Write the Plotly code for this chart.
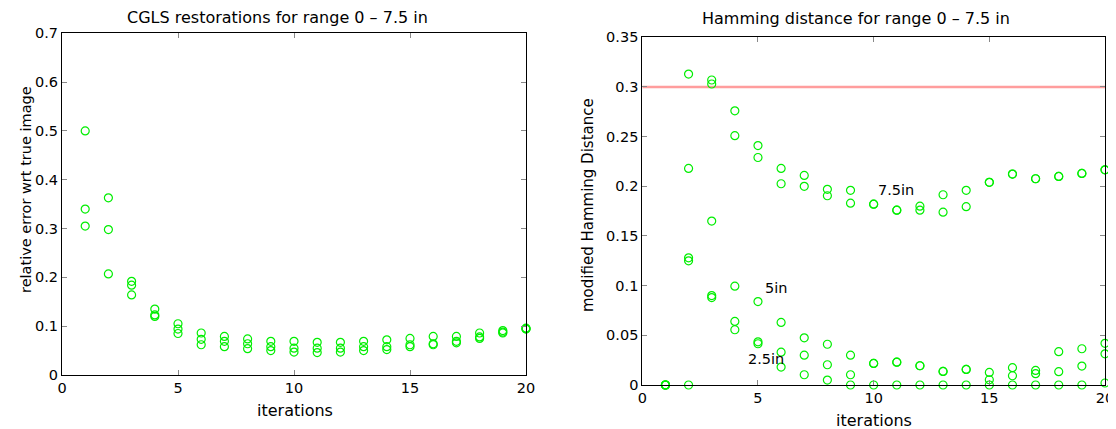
import plotly.graph_objects as go

iters = list(range(1, 21))

# Left: CGLS relative error (three ranges per iteration)
cgls_a = [0.500, 0.363, 0.192, 0.135, 0.105, 0.086, 0.079, 0.074, 0.069, 0.069,
          0.067, 0.067, 0.069, 0.072, 0.075, 0.079, 0.079, 0.086, 0.091, 0.096]
cgls_b = [0.340, 0.298, 0.184, 0.123, 0.094, 0.073, 0.069, 0.064, 0.058, 0.055,
          0.055, 0.055, 0.058, 0.058, 0.062, 0.064, 0.069, 0.078, 0.088, 0.095]
cgls_c = [0.305, 0.207, 0.164, 0.120, 0.085, 0.062, 0.058, 0.054, 0.050, 0.047,
          0.046, 0.047, 0.050, 0.052, 0.058, 0.062, 0.066, 0.075, 0.086, 0.094]

# Right: modified Hamming distance
ham_75a = [0.0, 0.313, 0.307, 0.276, 0.241, 0.218, 0.211, 0.197, 0.196, 0.182,
           0.176, 0.180, 0.1915, 0.196, 0.204, 0.2123, 0.2076, 0.210, 0.213, 0.2166]
ham_75b = [0.0, 0.218, 0.303, 0.251, 0.229, 0.2026, 0.200, 0.1905, 0.183, 0.182,
           0.176, 0.176, 0.174, 0.1795, 0.204, 0.2123, 0.2076, 0.210, 0.213, 0.2166]
ham_5a = [0.0, 0.128, 0.165, 0.0995, 0.084, 0.063, 0.0475, 0.041, 0.030, 0.0217,
          0.023, 0.0194, 0.0137, 0.0157, 0.0127, 0.0174, 0.0147, 0.0335, 0.0365, 0.042]
ham_5b = [0.0, 0.125, 0.088, 0.064, 0.0435, 0.033, 0.030, 0.0204, 0.0103, 0.0217,
          0.023, 0.0194, 0.0137, 0.0157, 0.0053, 0.0093, 0.0114, 0.0134, 0.019, 0.0314]
ham_25 = [0.0, 0.0, 0.090, 0.0556, 0.0415, 0.018, 0.0103, 0.005, 0.0, 0.0,
          0.0, 0.0, 0.0, 0.0, 0.0, 0.0, 0.0, 0.0, 0.0, 0.002]

threshold = 0.3
labels = [("7.5in", 10.95, 0.196), ("5in", 5.8, 0.0975), ("2.5in", 5.35, 0.0264)]

GREEN = "#00ee00"
FONT = "DejaVu Sans, Liberation Sans, sans-serif"

# page body has an 8px margin; the figure is drawn offset by it
OFF = 8
W, H = 1108, 421


def px(x):
    return (x - OFF) / W


def py(y):
    return 1 - (y - OFF) / H


fig = go.Figure()
marker = dict(symbol="circle-open", size=8, color=GREEN, line=dict(width=1.2, color=GREEN))

for s in (cgls_a, cgls_b, cgls_c):
    fig.add_trace(go.Scatter(x=iters, y=s, mode="markers", marker=marker,
                             xaxis="x", yaxis="y", showlegend=False, cliponaxis=False))

fig.add_trace(go.Scatter(x=[0, 20], y=[threshold, threshold], mode="lines",
                         line=dict(color="rgba(255,140,140,0.85)", width=2.5),
                         xaxis="x2", yaxis="y2", showlegend=False))
for s in (ham_75a, ham_75b, ham_5a, ham_5b, ham_25):
    fig.add_trace(go.Scatter(x=iters, y=s, mode="markers", marker=marker,
                             xaxis="x2", yaxis="y2", showlegend=False, cliponaxis=False))

axis_common = dict(showgrid=False, zeroline=False, showline=True, linecolor="black",
                   linewidth=1, mirror="ticks", ticks="inside", ticklen=5, automargin=False,
                   tickcolor="#888888", tickfont=dict(family=FONT, size=14.5, color="black"))

fig.update_layout(
    width=W, height=H,
    margin=dict(l=0, r=0, t=0, b=0, pad=0),
    paper_bgcolor="white", plot_bgcolor="white",
    xaxis=dict(domain=[px(62), px(526)], range=[0, 20], tickvals=[0, 5, 10, 15, 20],
               anchor="y", **axis_common),
    yaxis=dict(domain=[py(375), py(33.3)], range=[0, 0.7],
               tickvals=[0, 0.1, 0.2, 0.3, 0.4, 0.5, 0.6, 0.7], anchor="x", **axis_common),
    xaxis2=dict(domain=[px(642.3), px(1105)], range=[0, 20], tickvals=[0, 5, 10, 15, 20],
                anchor="y2", **axis_common),
    yaxis2=dict(domain=[py(385), py(37.3)], range=[0, 0.35],
                tickvals=[0, 0.05, 0.1, 0.15, 0.2, 0.25, 0.3, 0.35], anchor="x2",
                **axis_common),
    font=dict(family=FONT, color="black"),
)


def note(text, x, y, size, angle=0):
    return dict(text=text, x=px(x), y=py(y), xref="paper", yref="paper",
                xanchor="center", yanchor="middle", showarrow=False, textangle=angle,
                font=dict(size=size, family=FONT, color="black"))


ann = [
    note("CGLS restorations for range 0 \u2013 7.5 in", 277, 18, 16),
    note("Hamming distance for range 0 \u2013 7.5 in", 856, 19, 16),
    note("iterations", 295, 410, 16),
    note("iterations", 874, 420, 16),
    note("relative error wrt true image", 26, 190, 14.5, -90),
    note("modified Hamming Distance", 588, 205, 15, -90),
]
for t, lx, ly in labels:
    ann.append(dict(text=t, x=lx, y=ly, xref="x2", yref="y2", showarrow=False,
                    xanchor="center", yanchor="middle",
                    font=dict(size=14.5, family=FONT, color="black")))
fig.update_layout(annotations=ann)

fig.write_html("out.html")
